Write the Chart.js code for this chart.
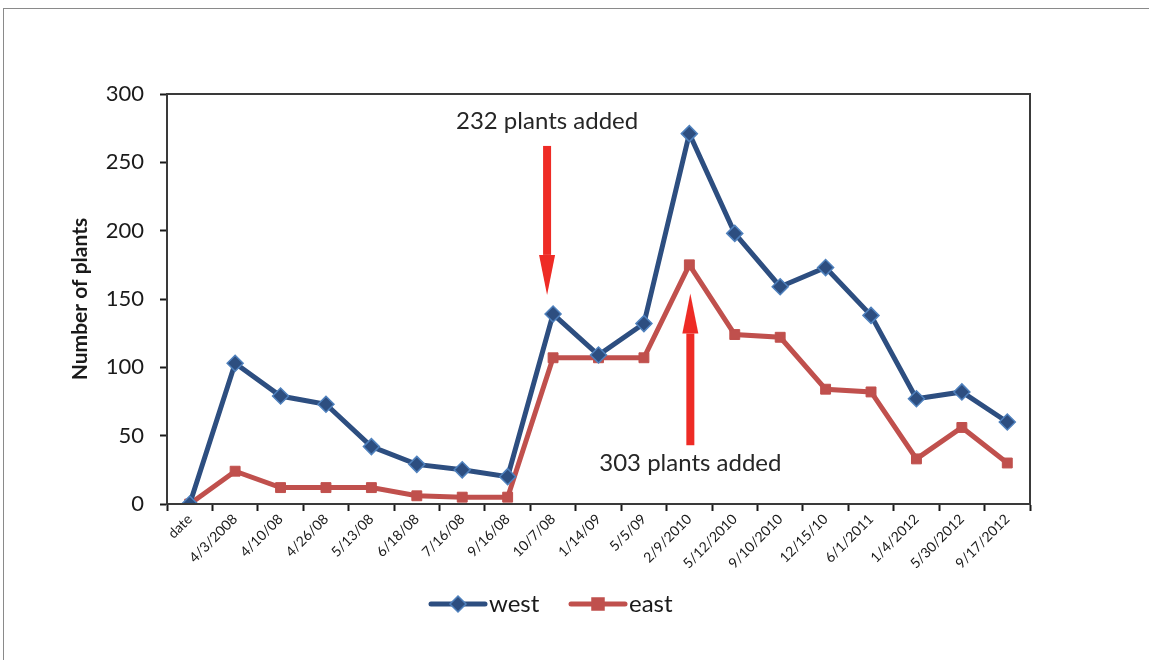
<!DOCTYPE html>
<html>
<head>
<meta charset="utf-8">
<script src="https://cdn.jsdelivr.net/npm/chart.js@4/dist/chart.umd.min.js"></script>
<style>
  body { margin: 0; background: #fff; overflow: hidden; }
  #frame { position: absolute; left: 3px; top: 8px; width: 1200px; height: 700px; border: 1px solid #8a8a8a; }
  #wrap { position: absolute; left: 0; top: 0; width: 1149px; height: 660px; }
</style>
</head>
<body>
<div id="frame"></div>
<div id="wrap"><canvas id="grafico" width="1149" height="660"></canvas></div>
<script>
const fechas = ["date", "4/3/2008", "4/10/08", "4/26/08", "5/13/08", "6/18/08", "7/16/08", "9/16/08",
  "10/7/08", "1/14/09", "5/5/09", "2/9/2010", "5/12/2010", "9/10/2010", "12/15/10", "6/1/2011",
  "1/4/2012", "5/30/2012", "9/17/2012"];
const west = [0, 103, 79, 73, 42, 29, 25, 20, 139, 109, 132, 271, 198, 159, 173, 138, 77, 82, 60];
const east = [0, 24, 12, 12, 12, 6, 5, 5, 107, 107, 107, 175, 124, 122, 84, 82, 33, 56, 30];
const yTicks = [0, 50, 100, 150, 200, 250, 300];

const FONT = "Lato, 'Open Sans', sans-serif";
const AZUL = "#2d4e80";
const ROJO = "#c0504d";

// flechas: [categoria, desplazamiento px, valor inicio, valor fin, texto, valor del texto]
const notas = [
  { cat: 8, dx: -6, desde: 262, hasta: 153, texto: "232 plants added", tv: 280 },
  { cat: 11, dx: 1, desde: 43, hasta: 154, texto: "303 plants added", tv: 30 }
];

const extras = {
  id: "extras",
  afterDraw(chart) {
    const ctx = chart.ctx;
    const a = chart.chartArea;
    const x = chart.scales.x, y = chart.scales.y;
    ctx.save();
    // marco del area
    ctx.strokeStyle = "#3a3a3a";
    ctx.lineWidth = 2;
    ctx.strokeRect(a.left, a.top, a.right - a.left, a.bottom - a.top);

    // titulo eje y
    ctx.translate(80, (a.top + a.bottom) / 2);
    ctx.rotate(-Math.PI / 2);
    ctx.fillStyle = "#1a1a1a";
    ctx.font = "bold 21px " + FONT;
    ctx.textAlign = "center";
    ctx.textBaseline = "middle";
    ctx.fillText("Number of plants", 0, 0);
    ctx.setTransform(1, 0, 0, 1, 0, 0);

    // anotaciones
    notas.forEach(n => {
      const px = x.getPixelForValue(n.cat) + n.dx;
      const y0 = y.getPixelForValue(n.desde);
      const y1 = y.getPixelForValue(n.hasta);
      const dir = y1 > y0 ? 1 : -1;
      const headLen = 40;
      ctx.fillStyle = "#ee2b25";
      ctx.fillRect(px - 4, Math.min(y0, y1 - dir * headLen), 8, Math.abs(y1 - dir * headLen - y0));
      ctx.beginPath();
      ctx.moveTo(px - 8, y1 - dir * headLen);
      ctx.lineTo(px + 8, y1 - dir * headLen);
      ctx.lineTo(px, y1);
      ctx.closePath();
      ctx.fill();
      ctx.fillStyle = "#262626";
      ctx.font = "24px " + FONT;
      ctx.textAlign = "center";
      ctx.textBaseline = "middle";
      ctx.fillText(n.texto, px, y.getPixelForValue(n.tv));
    });

    // leyenda
    const items = [
      { label: "west", color: AZUL, borde: "#4f81bd", forma: "diamante", x0: 431 },
      { label: "east", color: ROJO, borde: ROJO, forma: "cuadrado", x0: 571 }
    ];
    const ly = 604;
    items.forEach(it => {
      ctx.strokeStyle = it.color;
      ctx.lineWidth = 5;
      ctx.lineCap = "round";
      ctx.beginPath();
      ctx.moveTo(it.x0, ly);
      ctx.lineTo(it.x0 + 54, ly);
      ctx.stroke();
      const cx = it.x0 + 27;
      ctx.fillStyle = it.color;
      ctx.strokeStyle = it.borde;
      ctx.lineWidth = 1.5;
      ctx.beginPath();
      if (it.forma === "diamante") {
        ctx.moveTo(cx, ly - 8); ctx.lineTo(cx + 8, ly); ctx.lineTo(cx, ly + 8); ctx.lineTo(cx - 8, ly);
      } else {
        ctx.rect(cx - 6, ly - 6, 12, 12);
      }
      ctx.closePath();
      ctx.fill();
      ctx.stroke();
      ctx.fillStyle = "#1a1a1a";
      ctx.font = "24px " + FONT;
      ctx.textAlign = "left";
      ctx.textBaseline = "middle";
      ctx.fillText(it.label, it.x0 + 58, ly);
    });
    ctx.restore();
  }
};

new Chart(document.getElementById("grafico"), {
  type: "line",
  data: {
    labels: fechas,
    datasets: [
      {
        label: "west",
        data: west,
        borderColor: AZUL,
        borderWidth: 5,
        pointStyle: "rectRot",
        pointRadius: 8,
        pointBackgroundColor: AZUL,
        pointBorderColor: "#4f81bd",
        pointBorderWidth: 1.5,
        tension: 0
      },
      {
        label: "east",
        data: east,
        borderColor: ROJO,
        borderWidth: 5,
        pointStyle: "rect",
        pointRadius: 7,
        pointBackgroundColor: ROJO,
        pointBorderColor: ROJO,
        pointBorderWidth: 1,
        tension: 0
      }
    ]
  },
  options: {
    responsive: false,
    animation: false,
    layout: { padding: { top: 94, right: 119, left: 0, bottom: 0 } },
    plugins: { legend: { display: false }, tooltip: { enabled: false } },
    scales: {
      x: {
        offset: true,
        afterFit: s => { s.height = 156; },
        grid: { offset: true, drawOnChartArea: false, color: "#1a1a1a", tickLength: 7, tickWidth: 2 },
        border: { color: "#1a1a1a", width: 2 },
        ticks: {
          autoSkip: false, maxRotation: 45, minRotation: 45, padding: 0,
          color: "#1a1a1a", font: { family: FONT, size: 14 }
        }
      },
      y: {
        min: 0, max: 300,
        afterFit: s => { s.width = 167; },
        afterBuildTicks: s => { s.ticks = yTicks.map(v => ({ value: v })); },
        grid: { drawOnChartArea: false, color: "#1a1a1a", tickLength: 7, tickWidth: 2 },
        border: { color: "#1a1a1a", width: 2 },
        ticks: { padding: 16, color: "#1a1a1a", font: { family: FONT, size: 22 } }
      }
    }
  },
  plugins: [extras]
});
</script>
</body>
</html>
